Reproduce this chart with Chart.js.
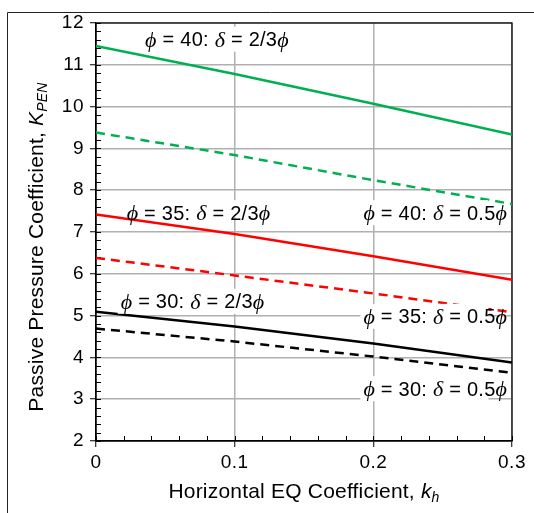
<!DOCTYPE html>
<html><head><meta charset="utf-8">
<script src="https://cdn.jsdelivr.net/npm/chart.js@4.4.0/dist/chart.umd.min.js"></script>
<style>html,body{margin:0;padding:0;background:#fff;overflow:hidden}canvas{display:block}</style>
</head><body>
<canvas id="c" width="534" height="513"></canvas>
<script>
// ---- data ----
const kh = [0, 0.1, 0.2, 0.3];
const phi40_twoThirds = [11.45, 10.78, 10.07, 9.33];
const phi40_half      = [9.38, 8.84, 8.24, 7.67];
const phi35_twoThirds = [7.42, 6.95, 6.42, 5.86];
const phi35_half      = [6.38, 5.96, 5.53, 5.08];
const phi30_twoThirds = [5.09, 4.74, 4.33, 3.88];
const phi30_half      = [4.69, 4.38, 4.02, 3.63];
const xTickValues = [0, 0.1, 0.2, 0.3];
const xTickLabels = ['0', '0.1', '0.2', '0.3'];
const yTickValues = [2, 3, 4, 5, 6, 7, 8, 9, 10, 11, 12];
const xTitle = 'Horizontal EQ Coefficient, ';
const yTitle = 'Passive Pressure Coefficient, ';

// ---- annotations (text labels) ----
const curveLabels = [
  {phi: '40', delta: '2/3', x: 0.0354, y: 11.6,  align: 'left',  boxBelow: 12},
  {phi: '35', delta: '2/3', x: 0.0221, y: 7.45,  align: 'left',  boxBelow: 4},
  {phi: '40', delta: '0.5', x: 0.2965, y: 7.45,  align: 'right', boxBelow: 12},
  {phi: '30', delta: '2/3', x: 0.0178, y: 5.33,  align: 'left',  boxBelow: 12},
  {phi: '35', delta: '0.5', x: 0.2965, y: 4.97,  align: 'right', boxBelow: 12},
  {phi: '30', delta: '0.5', x: 0.2965, y: 3.24,  align: 'right', boxBelow: 12}
];

const GREEN = '#00b050', RED = '#ff0000', BLACK = '#000000';
const SANS = "'Liberation Sans', Arial, sans-serif";
const SERIF = "'Liberation Serif', 'DejaVu Serif', serif";
const LBL = 20, GRK = 22;

function mk(label, data, color, dashed) {
  return {label, data: kh.map((x, i) => ({x, y: data[i]})), borderColor: color,
    backgroundColor: color, borderWidth: 2.5, pointRadius: 0, tension: 0,
    borderDash: dashed ? [9, 6] : [], fill: false};
}

function segs(l) {
  return [
    {t: '\u03D5', f: `italic ${GRK}px ${SERIF}`},
    {t: ' = ' + l.phi + ': ', f: `${LBL}px ${SANS}`},
    {t: '\u03B4', f: `italic ${GRK}px ${SERIF}`},
    {t: ' = ' + l.delta, f: `${LBL}px ${SANS}`},
    {t: '\u03D5', f: `italic ${GRK}px ${SERIF}`}
  ];
}

const deco = {
  id: 'deco',
  beforeDraw(chart) {
    const ctx = chart.ctx;
    ctx.save();
    ctx.fillStyle = '#fff';
    ctx.fillRect(0, 0, chart.width, chart.height);
    ctx.strokeStyle = '#222';
    ctx.lineWidth = 1;
    ctx.beginPath();
    ctx.moveTo(7.5, 513); ctx.lineTo(7.5, 12.5); ctx.lineTo(534, 12.5);
    ctx.stroke();
    ctx.restore();
    ctx.letterSpacing = '0.5px';
  },
  beforeDatasetsDraw(chart) {
    const {ctx, chartArea: a, scales: {x, y}} = chart;
    ctx.save();
    ctx.strokeStyle = '#000';
    ctx.lineWidth = 1.25;
    ctx.strokeRect(a.left, a.top, a.right - a.left, a.bottom - a.top);
    ctx.lineWidth = 1;
    ctx.beginPath();
    for (let i = 0; i <= 15; i++) {
      const px = Math.round(x.getPixelForValue(i * 0.02)) + 0.5;
      ctx.moveTo(px, a.bottom); ctx.lineTo(px, a.bottom - 5);
    }
    for (let i = 0; i <= 50; i++) {
      const py = Math.round(y.getPixelForValue(2 + i * 0.2)) + 0.5;
      ctx.moveTo(a.left, py); ctx.lineTo(a.left + 5, py);
    }
    ctx.stroke();
    ctx.restore();
  },
  afterDatasetsDraw(chart) {
    const {ctx, scales: {x, y}} = chart;
    ctx.save();
    ctx.textBaseline = 'middle';
    ctx.letterSpacing = '0.25px';
    curveLabels.forEach(l => {
      const s = segs(l);
      let w = 0;
      s.forEach(p => { ctx.font = p.f; p.w = ctx.measureText(p.t).width; w += p.w; });
      const ax = x.getPixelForValue(l.x), cy = y.getPixelForValue(l.y);
      const left = l.align === 'left' ? ax : ax - w;
      ctx.fillStyle = '#fff';
      ctx.fillRect(left - 3, cy - 13, 128, 13 + l.boxBelow);
      ctx.fillStyle = '#000';
      let cx = left;
      s.forEach(p => { ctx.font = p.f; ctx.fillText(p.t, cx, cy + 1); cx += p.w; });
    });
    ctx.restore();
  },
  afterDraw(chart) {
    const {ctx, chartArea: a} = chart;
    ctx.save();
    ctx.fillStyle = '#000';
    ctx.textBaseline = 'alphabetic';
    ctx.letterSpacing = '0.2px';
    // x title
    const fx = `21px ${SANS}`, fxi = `italic 21px ${SANS}`, fxs = `italic 14px ${SANS}`;
    ctx.font = fx; const w1 = ctx.measureText(xTitle).width;
    ctx.font = fxi; const w2 = ctx.measureText('k').width;
    ctx.font = fxs; const w3 = ctx.measureText('h').width;
    let sx = (a.left + a.right) / 2 - (w1 + w2 + w3) / 2;
    const by = 498;
    ctx.font = fx; ctx.fillText(xTitle, sx, by); sx += w1;
    ctx.font = fxi; ctx.fillText('k', sx, by); sx += w2;
    ctx.font = fxs; ctx.fillText('h', sx, by + 4);
    // y title
    ctx.translate(43, 247);
    ctx.rotate(-Math.PI / 2);
    ctx.font = fx; const v1 = ctx.measureText(yTitle).width;
    ctx.font = fxi; const v2 = ctx.measureText('K').width;
    ctx.font = fxs; const v3 = ctx.measureText('PEN').width;
    let tx = -(v1 + v2 + v3) / 2;
    ctx.font = fx; ctx.fillText(yTitle, tx, 0); tx += v1;
    ctx.font = fxi; ctx.fillText('K', tx, 0); tx += v2;
    ctx.font = fxs; ctx.fillText('PEN', tx, 4);
    ctx.restore();
  }
};

new Chart(document.getElementById('c'), {
  type: 'line',
  data: {datasets: [
    mk('phi=40 d=2/3phi', phi40_twoThirds, GREEN, false),
    mk('phi=40 d=0.5phi', phi40_half, GREEN, true),
    mk('phi=35 d=2/3phi', phi35_twoThirds, RED, false),
    mk('phi=35 d=0.5phi', phi35_half, RED, true),
    mk('phi=30 d=2/3phi', phi30_twoThirds, BLACK, false),
    mk('phi=30 d=0.5phi', phi30_half, BLACK, true)
  ]},
  options: {
    responsive: false, animation: false, devicePixelRatio: 1,
    layout: {padding: {left: 0, top: 23, right: 22, bottom: 0}},
    plugins: {legend: {display: false}, tooltip: {enabled: false}, title: {display: false}},
    scales: {
      x: {type: 'linear', min: 0, max: 0.3,
        afterBuildTicks(s) { s.ticks = xTickValues.map(v => ({value: v})); },
        afterFit(s) { s.height = 72; },
        ticks: {callback: (v, i) => xTickLabels[i], color: '#000', font: {family: SANS, size: 19}, padding: 4, maxRotation: 0},
        grid: {color: '#b0b0b0', lineWidth: 1.5, tickLength: 6, tickColor: '#000', tickWidth: 1},
        border: {display: true, color: '#000', width: 1.25}},
      y: {type: 'linear', min: 2, max: 12,
        afterBuildTicks(s) { s.ticks = yTickValues.map(v => ({value: v})); },
        afterFit(s) { s.width = 96; },
        ticks: {color: '#000', font: {family: SANS, size: 19}, padding: 6},
        grid: {color: '#b0b0b0', lineWidth: 1.5, tickLength: 6, tickColor: '#000', tickWidth: 1},
        border: {display: true, color: '#000', width: 1.25}}
    }
  },
  plugins: [deco]
});
</script>
</body></html>
